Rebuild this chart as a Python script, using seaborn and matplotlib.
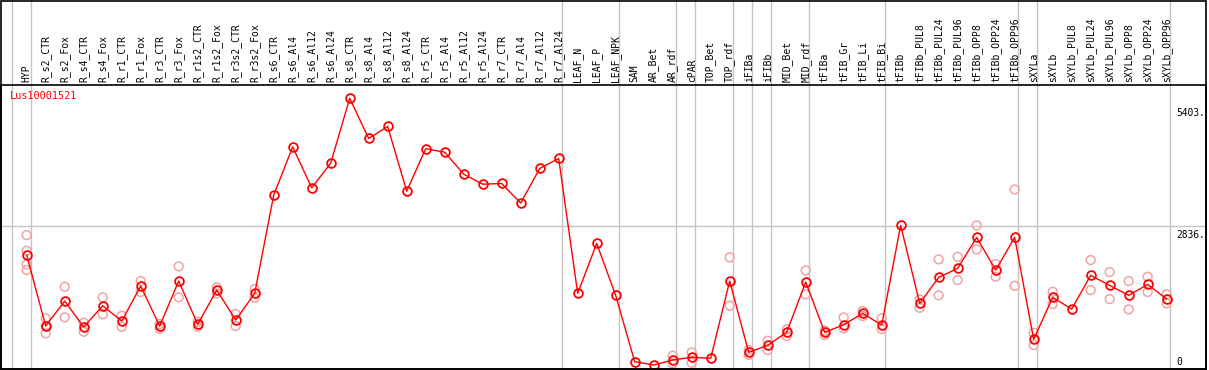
import numpy as np
import pandas as pd
import matplotlib
matplotlib.use("Agg")
import matplotlib.pyplot as plt
from matplotlib.patches import Rectangle
import seaborn as sns

# sample names along the top
samples = ['HYP', 'R_s2_CTR', 'R_s2_Fox', 'R_s4_CTR', 'R_s4_Fox', 'R_r1_CTR', 'R_r1_Fox',
           'R_r3_CTR', 'R_r3_Fox', 'R_r1s2_CTR', 'R_r1s2_Fox', 'R_r3s2_CTR', 'R_r3s2_Fox',
           'R_s6_CTR', 'R_s6_Al4', 'R_s6_Al12', 'R_s6_Al24', 'R_s8_CTR', 'R_s8_Al4',
           'R_s8_Al12', 'R_s8_Al24', 'R_r5_CTR', 'R_r5_Al4', 'R_r5_Al12', 'R_r5_Al24',
           'R_r7_CTR', 'R_r7_Al4', 'R_r7_Al12', 'R_r7_Al24', 'LEAF_N', 'LEAF_P', 'LEAF_NPK',
           'SAM', 'AR_Bet', 'AR_rdf', 'cPAR', 'TOP_Bet', 'TOP_rdf', 'iFIBa', 'iFIBb',
           'MID_Bet', 'MID_rdf', 'tFIBa', 'tFIB_Gr', 'tFIB_Li', 'tFIB_Bi', 'tFIBb',
           'tFIBb_PUL8', 'tFIBb_PUL24', 'tFIBb_PUL96', 'tFIBb_OPP8', 'tFIBb_OPP24',
           'tFIBb_OPP96', 'sXYLa', 'sXYLb', 'sXYLb_PUL8', 'sXYLb_PUL24', 'sXYLb_PUL96',
           'sXYLb_OPP8', 'sXYLb_OPP24', 'sXYLb_OPP96']

# mean expression per sample
means = [2250, 824, 1326, 804, 1232, 924, 1627, 824, 1728, 857, 1547, 944, 1480,
         3455, 4426, 3602, 4098, 5403, 4595, 4836, 3535, 4388, 4319, 3877, 3676,
         3690, 3295, 3992, 4193, 1480, 2485, 1440,
         106, 40, 141, 195, 175, 1728, 295, 436, 697, 1708, 697, 850, 1079, 844, 2847,
         1280, 1802, 1983, 2606, 1949, 2606, 556, 1400, 1165, 1842, 1641, 1440, 1661, 1366]

# replicate values per sample (empty where none shown)
replicates = [
    [2652, 2337, 2063, 1949], [978, 824, 677], [1613, 998], [890, 709], [1400, 1059],
    [1031, 810], [1728, 1507], [864, 770], [2023, 1400], [911, 810], [1600, 1480],
    [1065, 824], [1567, 1392],
    [], [], [], [], [], [], [], [], [], [], [], [], [], [], [], [], [], [], [],
    [], [], [227, 74], [295, 86], [], [2204, 1232], [342, 241], [528, 342], [757, 623],
    [1942, 1460], [643, 730], [998, 777], [1125, 1025], [978, 763], [],
    [1360, 1191], [2164, 1440], [2216, 1748], [2847, 2365], [2069, 1814], [3570, 1633],
    [689, 442], [1513, 1266], [], [2150, 1547], [1909, 1366], [1728, 1159],
    [1814, 1507], [1460, 1280]]

# group separators drawn after these sample indices
separators = [-1, 0, 28, 31, 34, 35, 37, 38, 39, 41, 45, 52, 53, 60]
gene = 'Lus10001521'
axis_values = [5403, 2836, 0]

mean_df = pd.DataFrame({'pos': np.arange(len(samples)), 'value': means})
rep_df = pd.DataFrame([(i, v) for i, reps in enumerate(replicates) for v in reps],
                      columns=['pos', 'value'])

sns.set_style('white')
plt.rcParams['font.family'] = ['DejaVu Sans Mono', 'DejaVu Sans']

W, H = 1209, 370
fig = plt.figure(figsize=(W / 100, H / 100), dpi=100)
ax = fig.add_axes([1 / W, 1 / H, 1205 / W, 284 / H])

# grid lines
extra = 85 / 284
for s in separators:
    ax.axvline(s + 0.2, ymin=0, ymax=1 + extra, color='#c4c4c4', lw=1, clip_on=False, zorder=0)
ax.axhline(axis_values[1], color='#c4c4c4', lw=1, zorder=0)

# replicates and mean line
sns.scatterplot(data=rep_df, x='pos', y='value', ax=ax, s=40, marker='o',
                facecolor='none', edgecolor='#f0a4a4', linewidth=1.1, zorder=2, legend=False)
sns.lineplot(data=mean_df, x='pos', y='value', ax=ax, color='red', lw=1, sort=False,
             marker='o', markersize=6.3, markerfacecolor='none', markeredgecolor='red',
             markeredgewidth=1.3, zorder=3)

ax.set_xlim(-1.353, 62.07)
ax.set_ylim(-40, 5670)

ax.xaxis.tick_top()
ax.set_xticks(mean_df['pos'])
ax.set_xticklabels(samples, rotation=90, fontsize=7, color='black')
ax.tick_params(axis='x', length=0, pad=2)
ax.set_yticks([])
ax.set_xlabel('')
ax.set_ylabel('')
for sp in ax.spines.values():
    sp.set_color('black')
    sp.set_linewidth(1.2)

# value labels on the right
offsets = [-10, -4, 10]
for v, off in zip(axis_values, offsets):
    ax.annotate(f'{v}.' if v else '0', xy=(0.9755, v), xycoords=('axes fraction', 'data'),
                xytext=(0, off), textcoords='offset pixels', ha='left', va='top',
                fontsize=6.9, color='black')

ax.text(0.0075, 0.979, gene, transform=ax.transAxes, ha='left', va='top',
        fontsize=7.4, color='red')

# outer frame
fig.add_artist(Rectangle((1 / W, 1 / H), 1205 / W, 368.5 / H, transform=fig.transFigure,
                         fill=False, edgecolor='black', lw=1.2))

fig.savefig('out.png', dpi=100)
